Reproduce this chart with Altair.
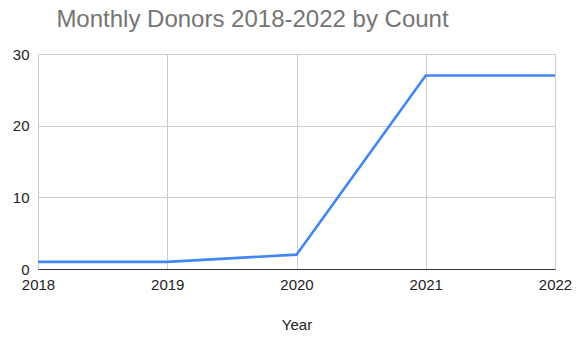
import altair as alt
import pandas as pd

years = [2018, 2019, 2020, 2021, 2022]
donors = [1, 1, 2, 27, 27]

df = pd.DataFrame({"Year": years, "Donors": donors})

FONT = "Liberation Sans"

chart = alt.Chart(df).mark_line(color="#4285F4", strokeWidth=2.6).encode(
    x=alt.X("Year:Q",
            scale=alt.Scale(domain=[2018, 2022], nice=False, zero=False),
            axis=alt.Axis(values=years, format="d", title="Year",
                          labelFontSize=15, labelColor="#222222", labelFont=FONT,
                          labelPadding=8, ticks=False, domainColor="#333333",
                          domainWidth=1, gridColor="#cccccc", labelFlush=False,
                          titleFontSize=15, titleFont=FONT, titleColor="#222222",
                          titleFontWeight="normal", titlePadding=25)),
    y=alt.Y("Donors:Q",
            scale=alt.Scale(domain=[0, 30], nice=False),
            axis=alt.Axis(values=[0, 10, 20, 30], title=None,
                          labelFontSize=15, labelColor="#222222", labelFont=FONT,
                          labelPadding=9, ticks=False, domain=False,
                          gridColor="#cccccc")),
).properties(
    width=517,
    height=215,
    title=alt.TitleParams("Monthly Donors 2018-2022 by Count", anchor="middle",
                          dx=-44, fontSize=24, font=FONT, color="#757575",
                          fontWeight="normal", offset=15),
    autosize=alt.AutoSizeParams(type="none"),
    padding={"left": 38, "top": 54, "right": 25, "bottom": 70},
).configure_view(stroke=None).configure(background="white")

chart.save("out.html", embed_options={"renderer": "svg", "actions": False})
